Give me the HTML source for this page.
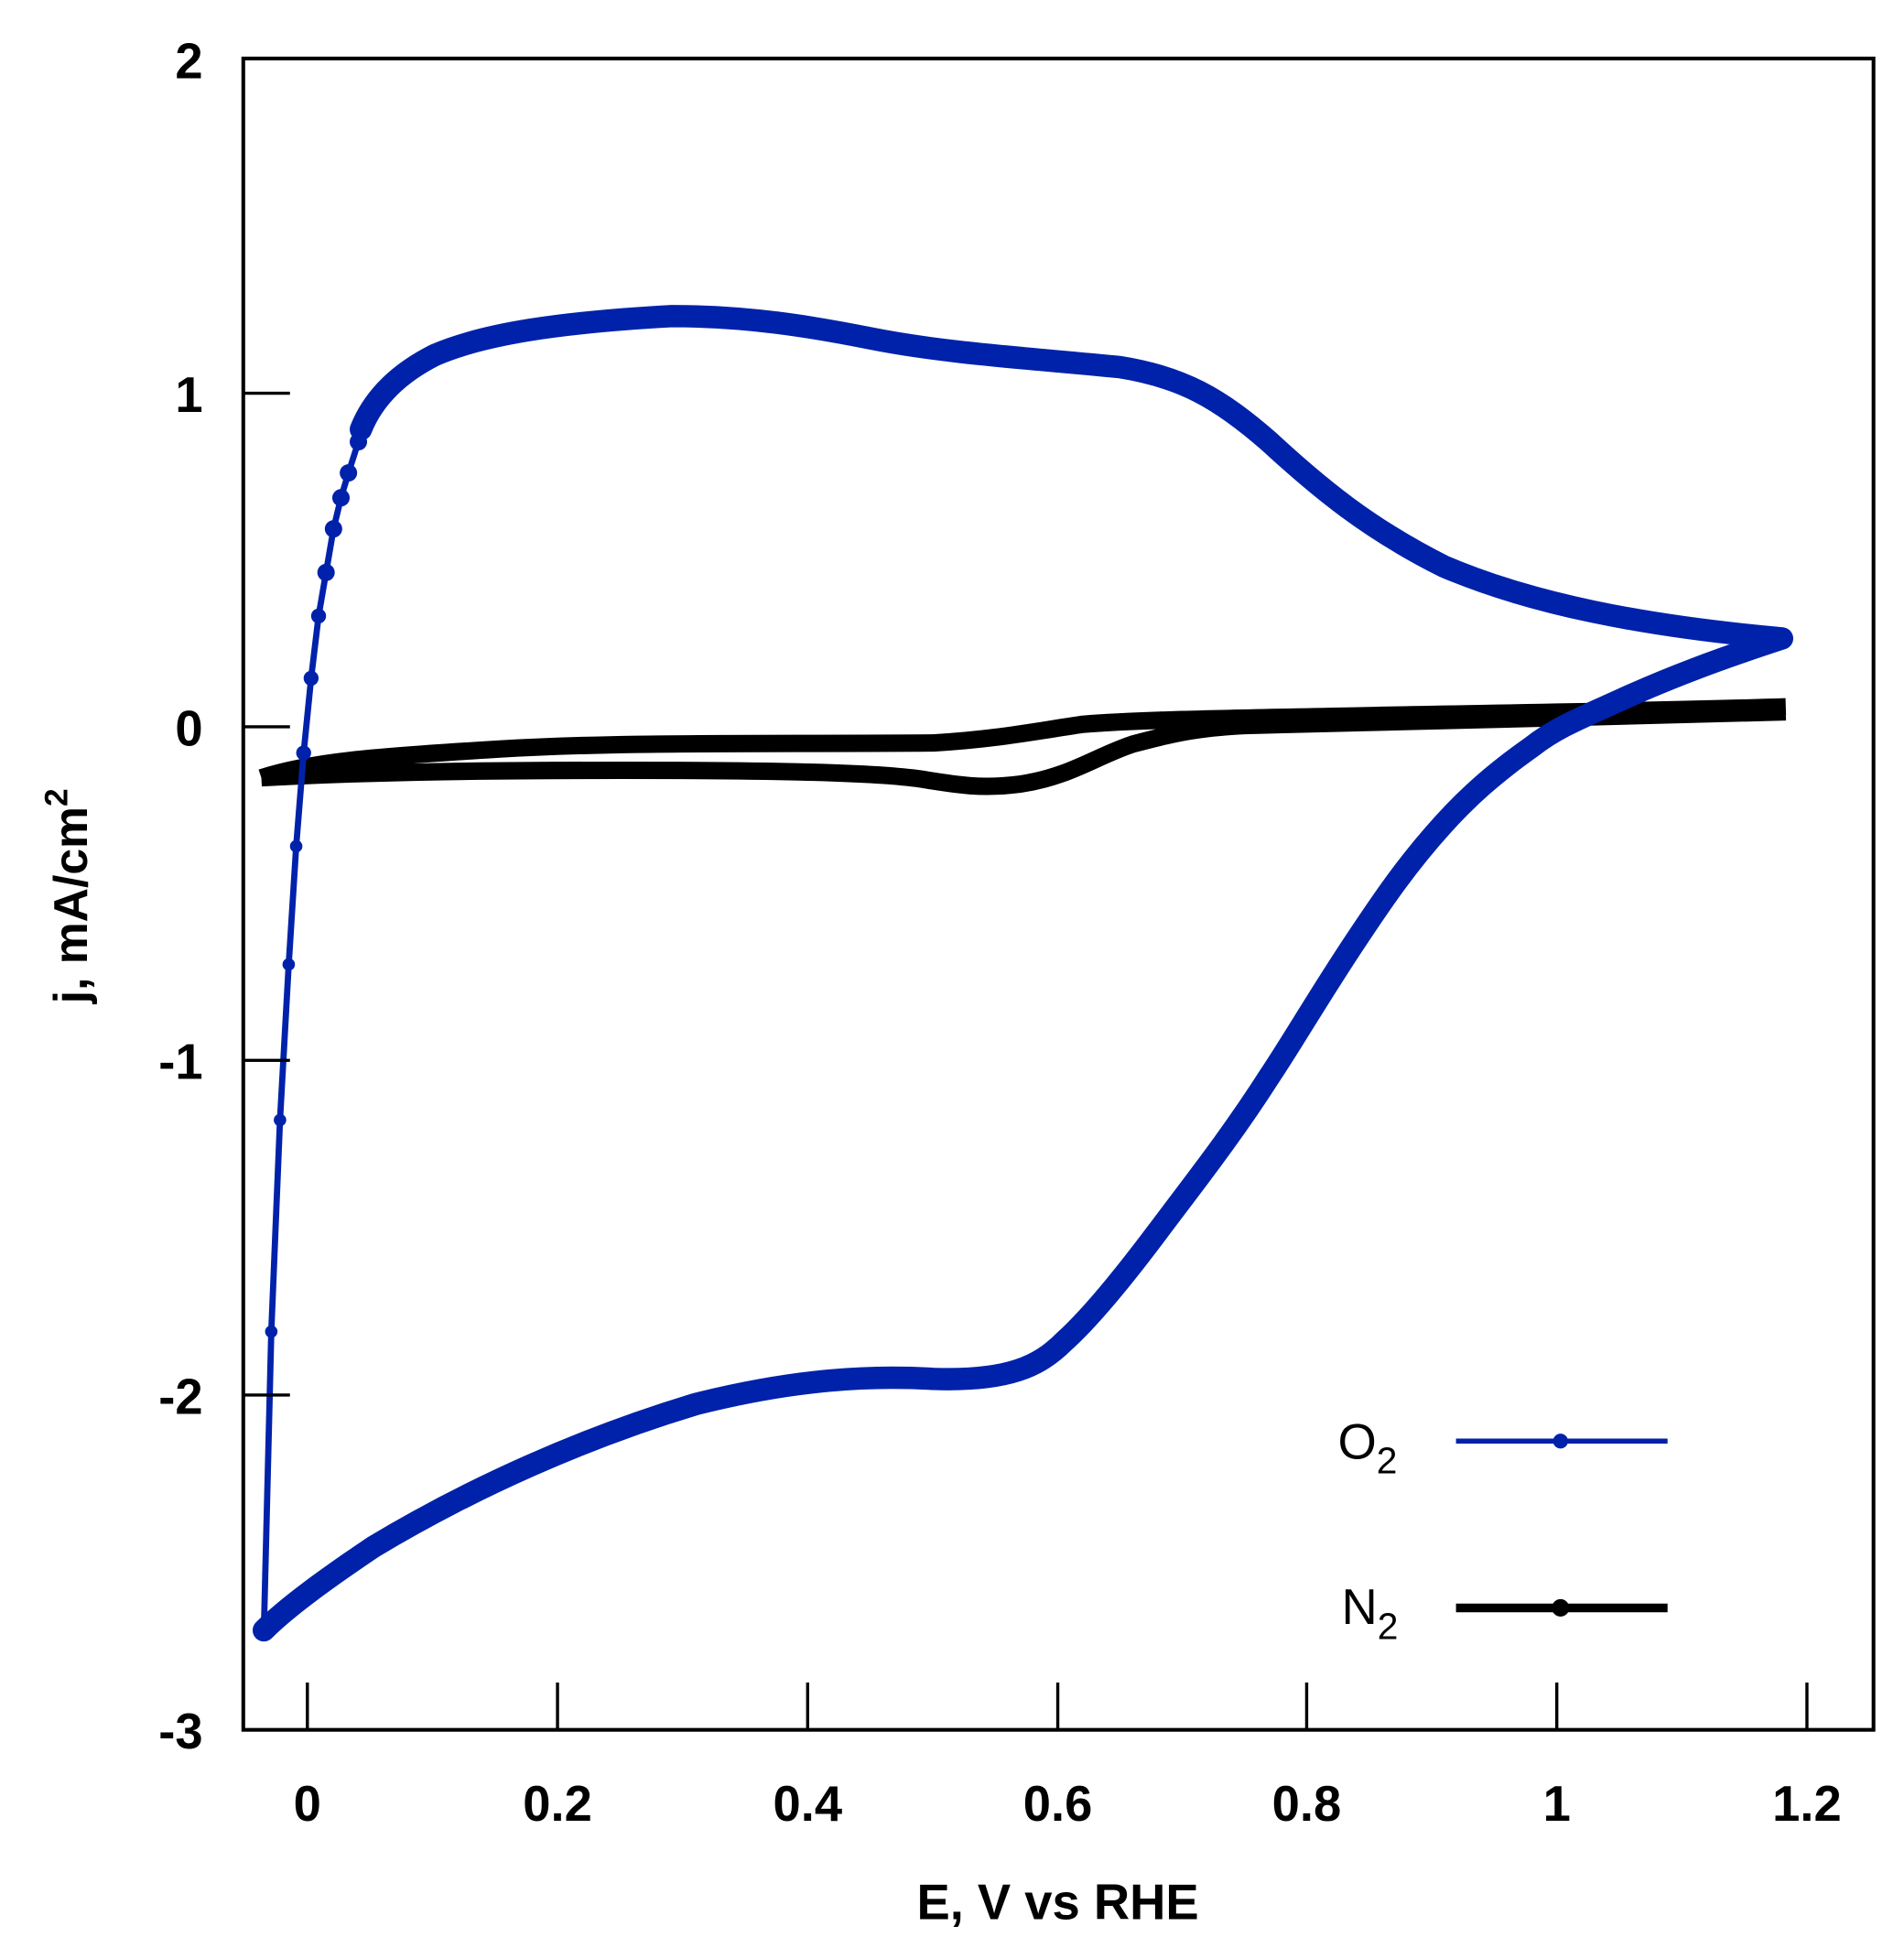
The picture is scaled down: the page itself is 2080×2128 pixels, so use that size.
<!DOCTYPE html>
<html><head><meta charset="utf-8"><style>html,body{margin:0;padding:0;background:#fff}svg{display:block}</style></head>
<body>
<svg width="2080" height="2128" viewBox="0 0 1530 1565.3" xmlns="http://www.w3.org/2000/svg" font-family="Liberation Sans, sans-serif" font-weight="bold">
<rect width="1530" height="1566" fill="#fff"/>
<!-- N2 -->
<path d="M210,625 C250,612 300,608 400,602 S600,598 750,597 C800,594 830,588 870,582 C920,578 1000,577 1100,575 S1300,572 1435,568 M1435,572 C1300,576 1100,580 1000,583 C960,585 940,590 910,598 C880,608 860,624 820,630 C790,634 770,631 740,626 C700,620 600,619 500,619 S300,620 210,625" fill="none" stroke="#000" stroke-width="14" stroke-linejoin="round"/>
<!-- O2 thin part -->
<path d="M212,1312 L218,1070 L225,900 L232,775 L238,680 L244,605 L250,545 L256,495 L262,460 L268,425 L274,400 L280,380 L288,355 L296,335" fill="none" stroke="#0022aa" stroke-width="5"/>
<g fill="#0022aa">
<circle cx="218" cy="1070" r="5"/><circle cx="225" cy="900" r="5"/><circle cx="232" cy="775" r="5"/><circle cx="238" cy="680" r="5"/><circle cx="244" cy="605" r="6"/><circle cx="250" cy="545" r="6"/><circle cx="256" cy="495" r="6"/><circle cx="262" cy="460" r="7"/><circle cx="268" cy="425" r="7"/><circle cx="274" cy="400" r="7"/><circle cx="280" cy="380" r="7"/><circle cx="288" cy="355" r="7"/>
</g>
<!-- O2 thick loop -->
<path d="M290,345 C300,320 320,300 350,285 C390,268 450,259 540,254 C600,254 650,262 700,272 C760,284 830,288 900,295 C950,303 980,320 1020,355 C1060,392 1100,425 1160,455 C1230,485 1320,503 1432,513 C1380,530 1340,545 1301,563 C1270,577 1250,585 1231,600 C1200,622 1180,640 1160,662 C1130,695 1110,725 1090,755 C1060,800 1040,835 1020,865 C990,912 960,950 930,990 C900,1030 875,1060 855,1078 C835,1098 810,1110 750,1108 C700,1105 640,1108 560,1128 C470,1155 380,1195 300,1243 C260,1270 230,1292 212,1310" fill="none" stroke="#0022aa" stroke-width="18" stroke-linejoin="round" stroke-linecap="round"/>
<!-- axes -->
<rect x="195.5" y="47" width="1310" height="1343" fill="none" stroke="#000" stroke-width="3"/>
<g stroke="#000" stroke-width="2.5">
<line x1="195" y1="316" x2="233" y2="316"/><line x1="195" y1="584" x2="233" y2="584"/><line x1="195" y1="852" x2="233" y2="852"/><line x1="195" y1="1121" x2="233" y2="1121"/>
<line x1="247" y1="1390" x2="247" y2="1352"/><line x1="448" y1="1390" x2="448" y2="1352"/><line x1="649" y1="1390" x2="649" y2="1352"/><line x1="850" y1="1390" x2="850" y2="1352"/><line x1="1050" y1="1390" x2="1050" y2="1352"/><line x1="1251" y1="1390" x2="1251" y2="1352"/><line x1="1452" y1="1390" x2="1452" y2="1352"/>
</g>
<g font-size="40" text-anchor="end" fill="#000">
<text x="163" y="63">2</text><text x="163" y="331">1</text><text x="163" y="599">0</text><text x="163" y="867">-1</text><text x="163" y="1136">-2</text><text x="163" y="1405">-3</text>
</g>
<g font-size="40" text-anchor="middle" fill="#000">
<text x="247" y="1463">0</text><text x="448" y="1463">0.2</text><text x="649" y="1463">0.4</text><text x="850" y="1463">0.6</text><text x="1050" y="1463">0.8</text><text x="1251" y="1463">1</text><text x="1452" y="1463">1.2</text>
</g>
<text x="850" y="1542" font-size="40" text-anchor="middle">E, V vs RHE</text>
<text transform="translate(70,720) rotate(-90)" font-size="38" text-anchor="middle">j, mA/cm<tspan dy="-16" font-size="26">2</tspan></text>
<!-- legend -->
<text x="1075" y="1172" font-size="40" font-weight="normal">O<tspan dy="12" font-size="30">2</tspan></text>
<line x1="1170" y1="1158" x2="1340" y2="1158" stroke="#0022aa" stroke-width="4"/>
<circle cx="1254" cy="1158" r="6" fill="#0022aa"/>
<text x="1078" y="1305" font-size="40" font-weight="normal">N<tspan dy="12" font-size="30">2</tspan></text>
<line x1="1170" y1="1292" x2="1340" y2="1292" stroke="#000" stroke-width="7"/>
<circle cx="1254" cy="1292" r="7" fill="#000"/>
</svg>
</body></html>
